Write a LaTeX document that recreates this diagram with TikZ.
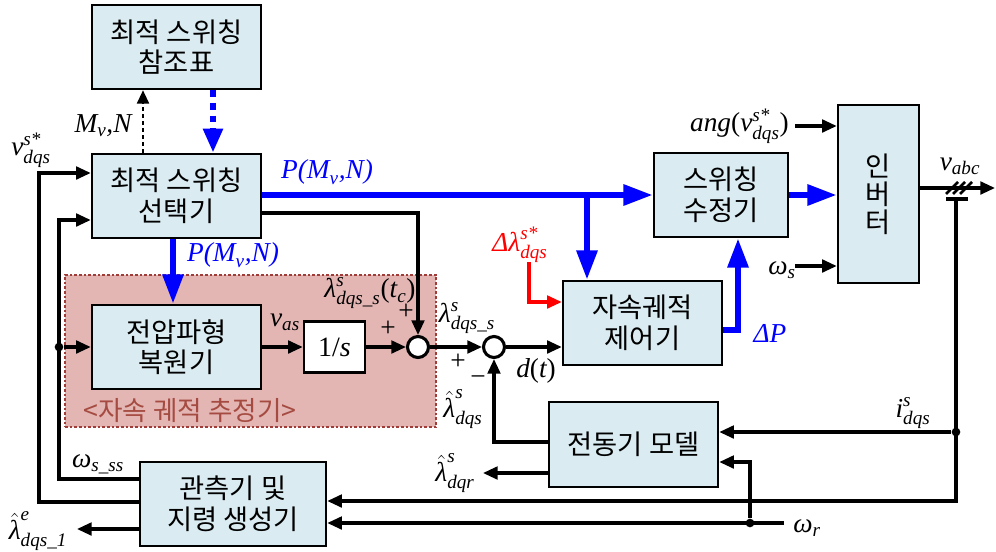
\documentclass[tikz,border=0pt]{standalone}
\usepackage{amsmath}
\usepackage{fontspec}
\setmainfont{Liberation Serif}
\newfontfamily\kr{Noto Sans CJK KR}
\usetikzlibrary{arrows.meta}
\definecolor{boxfill}{RGB}{218,236,242}
\definecolor{estfill}{RGB}{227,182,180}
\definecolor{estline}{RGB}{160,60,55}
\definecolor{esttext}{RGB}{165,75,65}
\definecolor{myblue}{RGB}{0,0,255}
\definecolor{myred}{RGB}{255,0,0}
\newcommand\ti[1]{\text{\itshape #1}}
\begin{document}
\begin{tikzpicture}[x=0.75pt,y=-0.75pt,
  box/.style={draw=black, line width=1.9pt, fill=boxfill, inner sep=0pt, align=center, font=\kr\fontsize{20.5}{23}\selectfont},
  sig/.style={line width=2.3pt, draw=black},
  arr/.style={sig, -{Triangle[length=11pt,width=9.5pt]}},
  barr/.style={line width=4.5pt, draw=myblue, -{Triangle[length=22pt,width=15pt]}},
  rarr/.style={line width=2.3pt, draw=myred, -{Triangle[length=11pt,width=9.5pt]}},
  lbl/.style={font=\fontsize{20.5}{24}\selectfont, inner sep=0pt},
  sumc/.style={circle, draw, line width=2.3pt, fill=white, minimum size=15.75pt, inner sep=0pt},
  jdot/.style={circle, fill=black, minimum size=6.5pt, inner sep=0pt},
]
\useasboundingbox (0,0) rectangle (996,551);

% estimator region
\node[draw=estline, fill=estfill, dash pattern=on 2pt off 1.5pt, line width=1.2pt,
      minimum width=278.25pt, minimum height=114pt, inner sep=0pt] (est) at (250.5,351) {};
\node[font=\kr\fontsize{20}{23}\selectfont, text=esttext, inner sep=0pt] (estlbl) at (190,411) {<자속 궤적 추정기>};

% blocks
\node[box, minimum width=126.75pt, minimum height=63pt] (ref) at (176.5,47) {최적 스위칭\\참조표};
\node[box, minimum width=126.75pt, minimum height=63pt] (sel) at (176.5,196) {최적 스위칭\\선택기};
\node[box, minimum width=126.75pt, minimum height=63pt] (wave) at (176.5,347) {전압파형\\복원기};
\node[box, fill=white, minimum width=45.75pt, minimum height=38.25pt, font=\fontsize{21}{24}\selectfont] (integ) at (334.5,347) {1/\textit{s}};
\node[box, minimum width=139.5pt, minimum height=63pt] (obs) at (233,504) {관측기 및\\지령 생성기};
\node[box, minimum width=100.5pt, minimum height=63pt] (mod) at (721,195) {스위칭\\수정기};
\node[box, minimum width=60.75pt, minimum height=133.5pt, font=\kr\fontsize{20.5}{21}\selectfont] (inv) at (878.5,194) {인\\버\\터};
\node[box, minimum width=119.25pt, minimum height=63pt] (fc) at (642.5,323) {자속궤적\\제어기};
\node[box, minimum width=126.75pt, minimum height=63.75pt] (mot) at (633.5,444.5) {전동기 모델};
\node[sumc] (s1) at (418,347) {};
\node[sumc] (s2) at (494,347) {};

% helper coordinates
\coordinate (xMv) at (143,0);
\coordinate (xRef) at (213,0);
\coordinate (xP) at (173,0);
\coordinate (vL) at (39,502);
\coordinate (yV) at (0,173);
\coordinate (wL) at (59,479);
\coordinate (yW) at (0,220);
\coordinate (yLo) at (0,529);
\coordinate (lamE) at (77,529);
\coordinate (br) at (587,195);
\coordinate (yS) at (0,213);
\coordinate (yFb) at (0,442);
\coordinate (yQr) at (0,473);
\coordinate (lamR) at (483,473);
\coordinate (rS) at (529,262);
\coordinate (yR) at (0,302);
\coordinate (yDP) at (0,330);
\coordinate (xDP) at (738,0);
\coordinate (angS) at (795,126);
\coordinate (wS) at (795,266);
\coordinate (yVa) at (0,188);
\coordinate (vEnd) at (995,188);
\coordinate (barL) at (946,199);
\coordinate (barR) at (968,199);
\coordinate (barC) at (956,199);
\coordinate (cR) at (956,501);
\coordinate (wrS) at (784,523);
\coordinate (yWr) at (0,462);

% top dashed connections
\draw[line width=1.5pt, dash pattern=on 3pt off 2.2pt, -{Triangle[length=10pt,width=9pt]}] (sel.north -| xMv) -- (ref.south -| xMv);
\draw[line width=4.5pt, draw=myblue, dash pattern=on 5pt off 4.5pt, -{Triangle[length=18pt,width=14pt]}] (ref.south -| xRef) -- (sel.north -| xRef);

% left feedback lines
\draw[arr] (obs.west |- vL) -- (vL) |- (sel.west |- yV);
\draw[arr] (obs.west |- wL) -- (wL) |- (sel.west |- yW);
\node[jdot] (j1) at (wL |- wave.west) {};
\draw[arr] (j1) -- (wave.west);
\draw[arr] (obs.west |- yLo) -- (lamE);

% blue P paths
\draw[barr] (sel.east |- mod.west) -- (mod.west);
\draw[barr] (br) -- (br |- fc.north);
\draw[barr] (sel.south -| xP) -- (wave.north -| xP);

% estimator chain
\draw[arr] (sel.east |- yS) -| (s1.north);
\draw[arr] (wave.east) -- (integ.west);
\draw[arr] (integ.east) -- (s1.west);
\draw[arr] (s1.east) -- (s2.west);
\draw[arr] (s2.east) -- (s2.east -| fc.west);
\draw[arr] (mot.west |- yFb) -| (s2.south);
\draw[arr] (mot.west |- yQr) -- (lamR);

% red reference
\draw[rarr] (rS) |- (fc.west |- yR);

% Delta P
\draw[barr] (fc.east |- yDP) -| (mod.south -| xDP);
\draw[barr] (mod.east) -- (inv.west |- mod.east);

% inverter inputs
\draw[arr] (angS) -- (inv.west |- angS);
\draw[arr] (wS) -- (inv.west |- wS);

% output
\draw[arr] (inv.east |- yVa) -- (vEnd);
\foreach \sx in {952,959,966}{
  \draw[line width=2pt] (\sx-6,194) -- (\sx+6,182);
}
\draw[sig] (barL) -- (barR);
\draw[arr] (barC) -- (cR) -- (obs.east |- cR);
\node[jdot] (j2) at (956,432) {};
\draw[arr] (j2) -- (mot.east |- j2);
\draw[arr] (wrS) -- (obs.east |- wrS);
\node[jdot] (j3) at (750,523) {};
\draw[arr] (j3) |- (mot.east |- yWr);

% labels
\node[lbl] (lMv) at (103,126) {$\ti{M}_{\ti{v}}\ti{,N}$};
\node[lbl] (lvd) at (31,150) {$\ti{v}^{\ti{s*}}_{\ti{dqs}}$};
\node[lbl, text=myblue] (lP1) at (327,172) {$\ti{P(M}_{\ti{v}}\ti{,N)}$};
\node[lbl, text=myblue] (lP2) at (233,255) {$\ti{P(M}_{\ti{v}}\ti{,N)}$};
\node[lbl] (lvas) at (285,322) {$\ti{v}_{\ti{as}}$};
\node[lbl] (ltc) at (370,293) {$\ti{λ}^{\ti{s}}_{\ti{dqs\_s}}\text{(}\ti{t}_{\ti{c}}\text{)}$};
\node[lbl] (pl1) at (388,329) {+};
\node[lbl] (pl2) at (406,312) {+};
\node[lbl] (llss) at (467,318) {$\ti{λ}^{\ti{s}}_{\ti{dqs\_s}}$};
\node[lbl] (pl3) at (458,362) {+};
\node[lbl] (mn1) at (478,381) {−};
\node[lbl] (lhq) at (463,409) {$\hat{\ti{λ}}^{\ti{s}}_{\ti{dqs}}$};
\node[lbl] (ldt) at (536,371) {$\ti{d}\text{(}\ti{t}\text{)}$};
\node[lbl] (lhr) at (455,473) {$\hat{\ti{λ}}^{\ti{s}}_{\ti{dqr}}$};
\node[lbl, text=myred] (ldl) at (520,245) {$\ti{Δλ}^{\ti{s*}}_{\ti{dqs}}$};
\node[lbl, text=myblue] (ldp) at (770,333) {$\ti{ΔP}$};
\node[lbl, anchor=east] (lang) at (789,126) {$\ti{ang}\text{(}\ti{v}^{\ti{s*}}_{\ti{dqs}}\text{)}$};
\node[lbl, anchor=east] (lws) at (796,270) {$\ti{ω}_{\ti{s}}$};
\node[lbl] (lvabc) at (960,166) {$\ti{v}_{\ti{abc}}$};
\node[lbl] (lids) at (913,413) {$\ti{i}^{\ti{s}}_{\ti{dqs}}$};
\node[lbl, anchor=west] (lwr) at (793,528) {$\ti{ω}_{\ti{r}}$};
\node[lbl] (lwss) at (98,464) {$\ti{ω}_{\ti{s\_ss}}$};
\node[lbl] (lhe) at (38,531) {$\hat{\ti{λ}}^{\ti{e}}_{\ti{dqs\_1}}$};
\end{tikzpicture}
\end{document}
